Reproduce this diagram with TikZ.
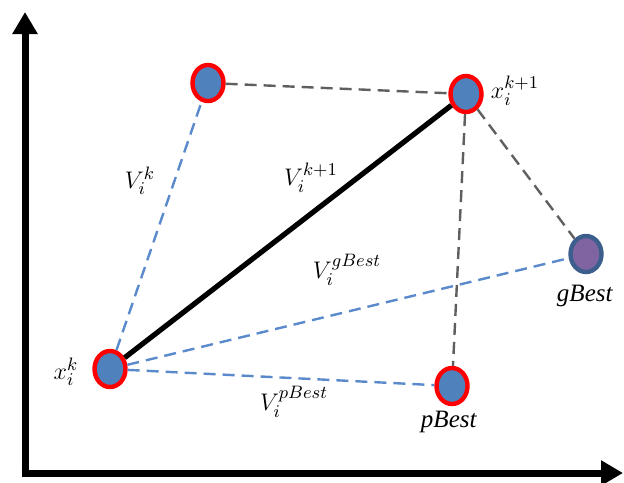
\documentclass[tikz,border=0pt]{standalone}
\usepackage{fontspec}
\setmainfont{Liberation Serif}
\usetikzlibrary{arrows.meta,shapes.geometric}

\definecolor{ptblue}{HTML}{4F81BD}
\definecolor{linkblue}{HTML}{5A8ACB}
\definecolor{linkgray}{HTML}{5F5F5F}
\definecolor{bestfill}{HTML}{8064A2}
\definecolor{bestedge}{HTML}{3B5E8C}

\begin{document}
\begin{tikzpicture}[
		x=0.5pt, y=-0.5pt,
		particle/.style={ellipse, draw=red, line width=2.2pt, fill=ptblue,
				minimum width=15.5pt, minimum height=18pt, inner sep=0pt},
		best/.style={particle, draw=bestedge},
		bluelink/.style={draw=linkblue, line width=1.2pt, dash pattern=on 6pt off 3.5pt},
		graylink/.style={draw=linkgray, line width=1.2pt, dash pattern=on 6pt off 3.5pt},
		axis/.style={line width=3.5pt, -{Triangle[length=11pt, width=12pt]}},
		lbl/.style={font=\fontsize{12.5}{14}\selectfont, inner sep=1pt}
	]
	\useasboundingbox (0,0) rectangle (624,482);

	% axes
	\coordinate (origin) at (25,473);
	\coordinate (ytip) at (25,12);
	\coordinate (xtip) at (623,473);
	\draw[axis] ([yshift=-1.75pt]origin) -- (ytip);
	\draw[axis] ([xshift=-1.75pt]origin) -- (xtip);

	% particles
	\node[particle] (xk) at (110,369) {};
	\node[particle] (vk) at (208,83) {};
	\node[particle] (xk1) at (466,94) {};
	\node[particle] (pbest) at (452,386) {};
	\node[best, fill=bestfill] (gbest) at (586,254) {};

	% links
	\draw[bluelink] (xk) -- (vk);
	\draw[bluelink] (xk) -- (gbest);
	\draw[bluelink] (xk) -- (pbest);
	\draw[graylink] (vk) -- (xk1);
	\draw[graylink] (xk1) -- (pbest);
	\draw[graylink] (xk1) -- (gbest);
	\draw[line width=2.6pt] (xk) -- (xk1);

	% labels
	\node[lbl] (lxk1) at (515,91) {$x_i^{k+1}$};
	\node[lbl] (lvk) at (140,181) {$V_i^{k}$};
	\node[lbl] (lvk1) at (311,178) {$V_i^{k+1}$};
	\node[lbl] (lvg) at (347,270) {$V_i^{gBest}$};
	\node[lbl] (lvp) at (294,402) {$V_i^{pBest}$};
	\node[lbl] (lxk) at (66,372) {$x_i^{k}$};
	\node[lbl] (lg) at (585,296) {\textit{gBest}};
	\node[lbl] (lp) at (449,422) {\textit{pBest}};
\end{tikzpicture}
\end{document}
